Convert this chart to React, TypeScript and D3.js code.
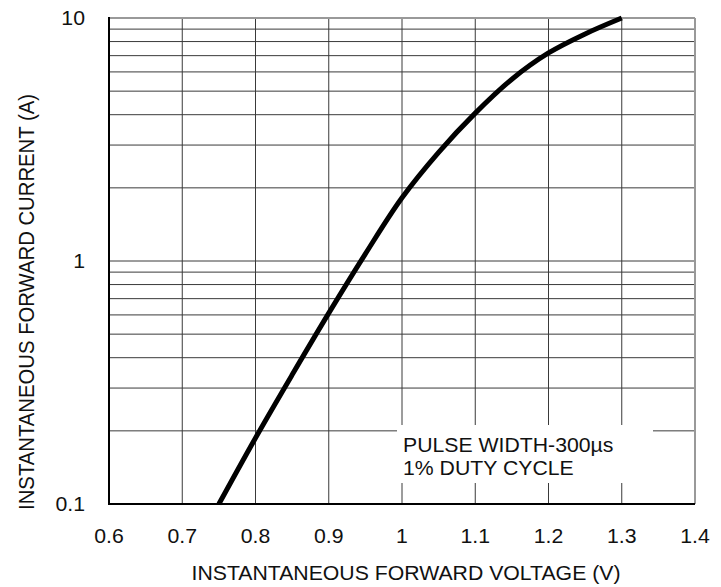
import React from 'react';
import * as d3 from 'd3';

// forward voltage (V) vs instantaneous forward current (A)
const voltage = [0.75, 0.8, 0.85, 0.9, 0.95, 1.0, 1.05, 1.1, 1.15, 1.2, 1.25, 1.3];
const current = [0.1, 0.187, 0.34, 0.61, 1.07, 1.82, 2.8, 4.06, 5.6, 7.18, 8.6, 10];

const xTicks = [0.6, 0.7, 0.8, 0.9, 1.0, 1.1, 1.2, 1.3, 1.4];
const xTickLabels = ['0.6', '0.7', '0.8', '0.9', '1', '1.1', '1.2', '1.3', '1.4'];
const yTicks = [0.1, 1, 10];
const yTickLabels = ['0.1', '1', '10'];
const noteLines = ['PULSE WIDTH-300µs', '1% DUTY CYCLE'];

const W = 721;
const H = 587;
const m = { left: 109, right: 695, top: 18, bottom: 504 };
const font = '"Liberation Sans", Arial, sans-serif';
const FS = 19.5;
const SX = 1.09; // reference text is a bit wide

const Label = ({ x, y, anchor = 'start', children }: any) => (
  <g transform={`translate(${x},${y}) scale(${SX},1)`}>
    <text x={0} y={0} fontSize={FS} textAnchor={anchor} fill="#111">
      {children}
    </text>
  </g>
);

export default function App() {
  const x = d3.scaleLinear().domain([0.6, 1.4]).range([m.left, m.right]);
  const y = d3.scaleLog().domain([0.1, 10]).range([m.bottom, m.top]);

  // minor grid: 1..9 in each decade
  const hLines: number[] = [];
  for (const dec of [0.1, 1]) {
    for (let k = 1; k <= 9; k++) hLines.push(dec * k);
  }
  hLines.push(10);

  const pts = voltage.map((v, i) => [v, current[i]] as [number, number]);
  const line = d3
    .line<[number, number]>()
    .x(d => x(d[0]))
    .y(d => y(d[1]))
    .curve(d3.curveCatmullRom.alpha(0.5));

  return (
    <svg
      width={W}
      height={H}
      style={{ position: 'absolute', left: 0, top: 0, background: '#fff' }}
      fontFamily={font}
    >
      {/* grid */}
      {hLines.map((v, i) => (
        <line key={'h' + i} x1={m.left} x2={m.right} y1={y(v)} y2={y(v)} stroke="#3a3a3a" strokeWidth={1} />
      ))}
      {xTicks.map((v, i) => (
        <line key={'v' + i} x1={x(v)} x2={x(v)} y1={m.top} y2={m.bottom} stroke="#3a3a3a" strokeWidth={1} />
      ))}

      {/* note box */}
      <rect x={397} y={425} width={256} height={58} fill="#fff" />
      {noteLines.map((t, i) => (
        <Label key={t} x={403} y={452 + i * 23}>
          {t}
        </Label>
      ))}

      {/* frame */}
      <line x1={m.left} x2={m.right} y1={m.top} y2={m.top} stroke="#999" strokeWidth={2} />
      <line x1={m.right} x2={m.right} y1={m.top} y2={m.bottom} stroke="#999" strokeWidth={2} />
      <line x1={m.left} x2={m.left} y1={m.top - 1} y2={m.bottom + 1} stroke="#000" strokeWidth={2} />
      <line x1={m.left} x2={m.right} y1={m.bottom} y2={m.bottom} stroke="#000" strokeWidth={2} />

      {/* curve */}
      <path d={line(pts) || ''} fill="none" stroke="#000" strokeWidth={5} />

      {/* tick labels */}
      {xTicks.map((v, i) => (
        <Label key={'xt' + i} x={x(v)} y={543} anchor="middle">
          {xTickLabels[i]}
        </Label>
      ))}
      {yTicks.map((v, i) => (
        <Label key={'yt' + i} x={85} y={y(v) + 7} anchor="end">
          {yTickLabels[i]}
        </Label>
      ))}

      {/* axis titles */}
      <Label x={406} y={580} anchor="middle">
        INSTANTANEOUS FORWARD VOLTAGE (V)
      </Label>
      <text
        transform={`translate(34, 302) scale(${SX},1) rotate(-90)`}
        fontSize={20.3}
        textAnchor="middle"
        fill="#111"
      >
        INSTANTANEOUS FORWARD CURRENT (A)
      </text>
    </svg>
  );
}
